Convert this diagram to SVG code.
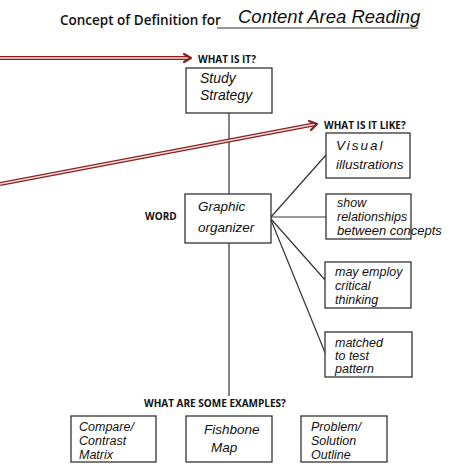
<svg xmlns="http://www.w3.org/2000/svg" width="474" height="474" viewBox="0 0 474 474">
<style>
.box{fill:#fff;stroke:#333;stroke-width:1.3}
.ln{stroke:#333;stroke-width:1.2;fill:none}
.lbl{font-family:"Open Sans","Liberation Sans",sans-serif;font-weight:bold;font-size:10px;fill:#111}
.hw{font-family:"Liberation Sans",sans-serif;font-style:italic;font-size:12.5px;fill:#111}
.red{stroke:#8b1e1e;stroke-width:4;fill:none}
.redin{stroke:#f4dede;stroke-width:1.4;fill:none}
.head{stroke:#8b1e1e;stroke-width:2.2;fill:none;stroke-linecap:round;stroke-linejoin:round}
</style>
<rect width="474" height="474" fill="#fff"/>
<g id="title">
<text x="60" y="25" font-family="Open Sans, Liberation Sans, sans-serif" font-size="13.5" font-weight="600" fill="#111">Concept of Definition for</text>
<line x1="217" y1="28" x2="418" y2="28" class="ln"/>
<text x="238" y="23" class="hw" style="font-size:18.5px">Content Area Reading</text>
</g>
<g id="connectors">
<line x1="229" y1="113" x2="229" y2="194" class="ln"/>
<line x1="229" y1="243" x2="229" y2="396" class="ln"/>
<line x1="271" y1="217" x2="326" y2="155" class="ln"/>
<line x1="271" y1="217" x2="326" y2="217" class="ln"/>
<line x1="271" y1="219" x2="326" y2="281" class="ln"/>
<line x1="271" y1="220" x2="326" y2="355" class="ln"/>
</g>
<g id="arrow1">
<line x1="0" y1="58" x2="190" y2="58" class="red"/>
<line x1="0" y1="58" x2="190" y2="58" class="redin"/>
<polyline points="184,54 191,58 184,62" class="head"/>
</g>
<g id="arrow2">
<line x1="0" y1="184" x2="316" y2="124" class="red"/>
<line x1="0" y1="184" x2="316" y2="124" class="redin"/>
<polyline points="309,121 317,124 311,130" class="head"/>
</g>
<g id="q1"><text x="198" y="63" class="lbl">WHAT IS IT?</text></g>
<g id="q2"><text x="324" y="129" class="lbl">WHAT IS IT LIKE?</text></g>
<g id="word"><text x="145" y="220" class="lbl">WORD</text></g>
<g id="q3"><text x="144" y="407" class="lbl">WHAT ARE SOME EXAMPLES?</text></g>
<g id="study">
<rect x="186" y="68" width="86" height="45" class="box"/>
<text x="200" y="83" class="hw" style="font-size:14px">Study</text>
<text x="200" y="100" class="hw" style="font-size:14px">Strategy</text>
</g>
<g id="graphic">
<rect x="185" y="194" width="86" height="49" class="box"/>
<text x="198" y="211" class="hw" style="font-size:13.5px">Graphic</text>
<text x="198" y="232" class="hw" style="font-size:13.5px">organizer</text>
</g>
<g id="visual">
<rect x="326" y="133" width="84" height="45" class="box"/>
<text x="336" y="150" class="hw" style="font-size:13.5px;letter-spacing:2px">Visual</text>
<text x="336" y="169" class="hw" style="font-size:13.5px">illustrations</text>
</g>
<g id="show">
<rect x="326" y="194" width="85" height="45" class="box"/>
<text x="337" y="207" class="hw">show</text>
<text x="337" y="221" class="hw">relationships</text>
<text x="337" y="235" class="hw" style="font-size:13px">between concepts</text>
</g>
<g id="critical">
<rect x="325" y="262" width="86" height="46" class="box"/>
<text x="335" y="276" class="hw">may employ</text>
<text x="335" y="290" class="hw">critical</text>
<text x="335" y="304" class="hw">thinking</text>
</g>
<g id="matched">
<rect x="325" y="332" width="87" height="45" class="box"/>
<text x="335" y="347" class="hw">matched</text>
<text x="335" y="360" class="hw">to test</text>
<text x="335" y="373" class="hw">pattern</text>
</g>
<g id="compare">
<rect x="71" y="416" width="85" height="46" class="box"/>
<text x="79" y="431" class="hw">Compare/</text>
<text x="79" y="445" class="hw">Contrast</text>
<text x="79" y="459" class="hw">Matrix</text>
</g>
<g id="fishbone">
<rect x="186" y="416" width="86" height="46" class="box"/>
<text x="204" y="434" class="hw" style="font-size:13.5px">Fishbone</text>
<text x="211" y="452" class="hw" style="font-size:13.5px">Map</text>
</g>
<g id="problem">
<rect x="301" y="416" width="86" height="46" class="box"/>
<text x="311" y="431" class="hw">Problem/</text>
<text x="311" y="445" class="hw">Solution</text>
<text x="311" y="459" class="hw">Outline</text>
</g>
</svg>
